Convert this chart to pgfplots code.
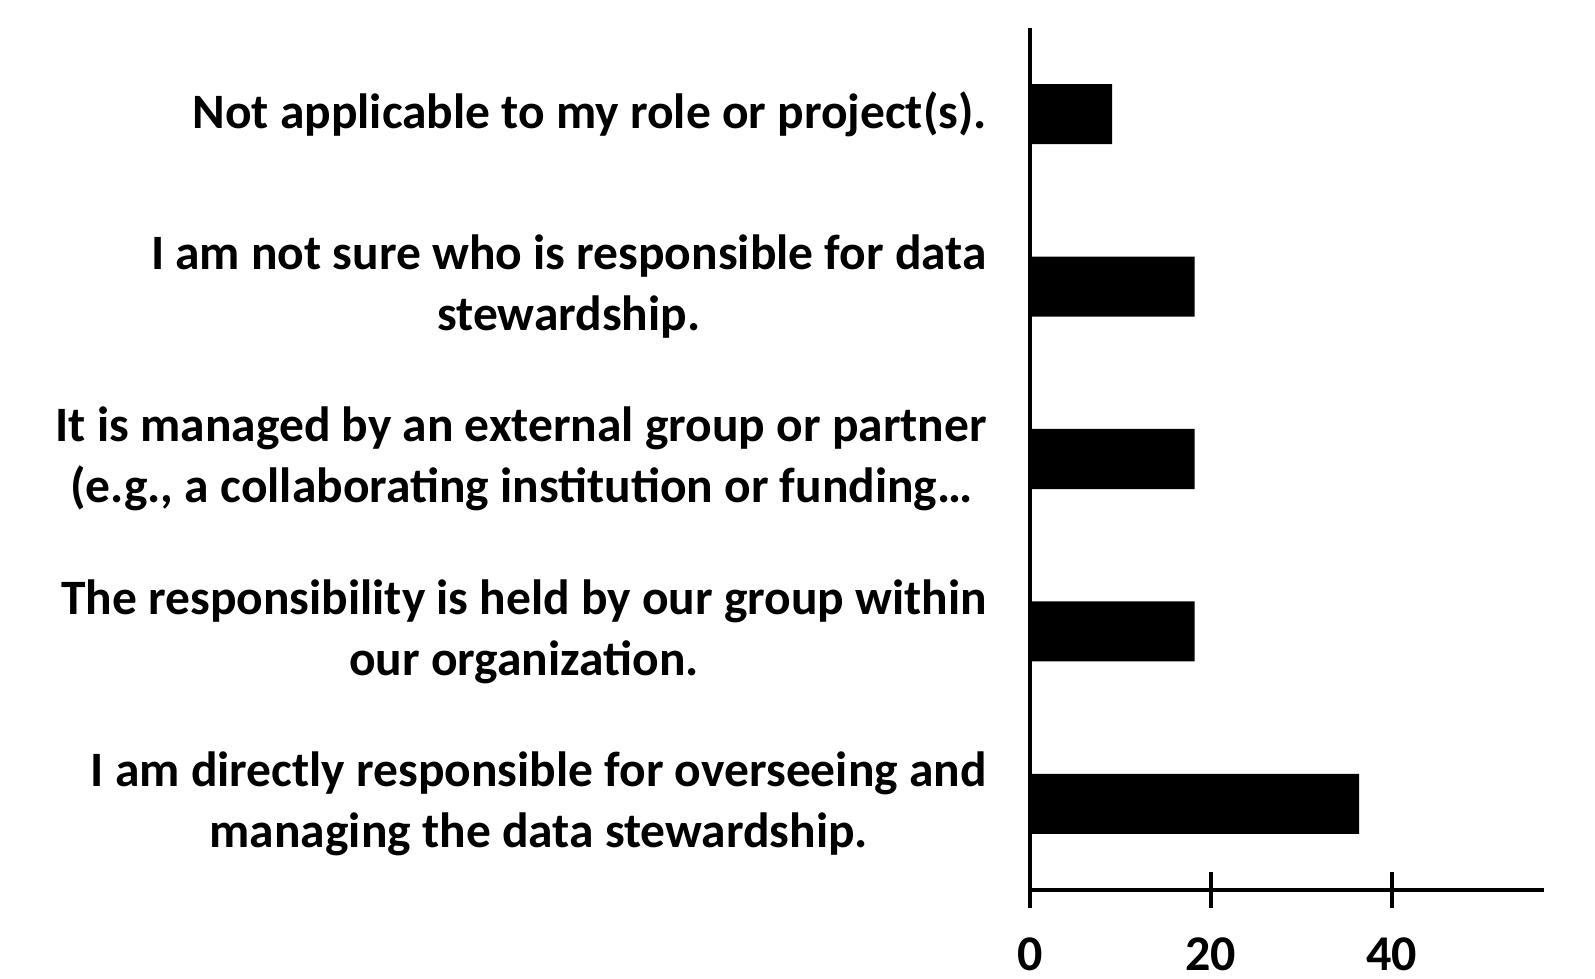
\documentclass[border=0pt]{standalone}
\usepackage{fontspec}
\setmainfont{Carlito}
\usepackage{pgfplots}
\pgfplotsset{compat=1.18}
\begin{document}
\begin{tikzpicture}
\path[use as bounding box] (-1030pt,-88pt) rectangle (565pt,890pt);
\begin{axis}[
  scale only axis, width=514pt, height=862pt,
  xbar, bar width=60pt, bar shift=0pt,
  xmin=0, xmax=56.8, ymin=0.5, ymax=5.5,
  axis x line*=bottom, axis y line*=left,
  axis line style={line width=3.5pt, black, -},
  xtick={0,20,40},
  ytick={1,2,3,4,5},
  yticklabels={
    {I am directly responsible for overseeing and\\managing the data stewardship.},
    {The responsibility is held by our group within\\our organization.},
    {It is managed by an external group or partner\\(e.g., a collaborating institution or funding…},
    {I am not sure who is responsible for data\\stewardship.},
    {Not applicable to my role or project(s).}},
  y tick label style={align=center, font=\fontsize{49.5}{61}\selectfont\bfseries, inner xsep=0pt, xshift=-25pt},
  x tick label style={font=\fontsize{50}{61}\selectfont\bfseries, inner ysep=0pt, yshift=-30pt},
  /pgf/number format/assume math mode=true,
  major tick length=36pt,
  tick align=center,
  ytick style={draw=none},
  xtick style={line width=3.5pt, black},
]
\addplot[fill=black, draw=none] coordinates {(36.36,1) (18.18,2) (18.18,3) (18.18,4) (9.09,5)};
\end{axis}
\end{tikzpicture}
\end{document}
